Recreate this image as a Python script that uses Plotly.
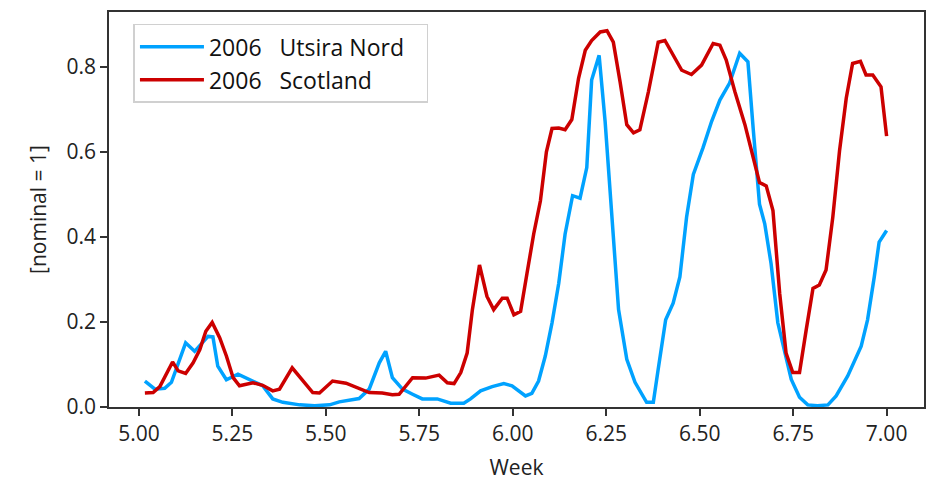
import plotly.graph_objects as go

# Utsira Nord (blue)
utsira_x = [5.016, 5.043, 5.069, 5.087, 5.125, 5.149, 5.185, 5.198, 5.211, 5.234, 5.265, 5.296,
            5.331, 5.358, 5.385, 5.43, 5.47, 5.51, 5.536, 5.589, 5.616, 5.643, 5.66, 5.678, 5.705,
            5.732, 5.758, 5.798, 5.834, 5.869, 5.887, 5.914, 5.945, 5.976, 5.998, 6.034, 6.051,
            6.069, 6.087, 6.105, 6.123, 6.14, 6.16, 6.18, 6.198, 6.211, 6.231, 6.247, 6.265,
            6.283, 6.305, 6.327, 6.358, 6.376, 6.389, 6.409, 6.429, 6.447, 6.465, 6.483, 6.509,
            6.532, 6.554, 6.58, 6.607, 6.629, 6.643, 6.66, 6.674, 6.691, 6.709, 6.727, 6.745,
            6.767, 6.789, 6.815, 6.843, 6.865, 6.896, 6.932, 6.949, 6.967, 6.98, 7.0]
utsira_y = [0.061, 0.042, 0.044, 0.058, 0.151, 0.131, 0.166, 0.165, 0.096, 0.064, 0.077, 0.065,
            0.05, 0.019, 0.011, 0.005, 0.003, 0.005, 0.012, 0.02, 0.042, 0.104, 0.131, 0.069, 0.042,
            0.03, 0.019, 0.019, 0.009, 0.009, 0.019, 0.038, 0.048, 0.055, 0.05, 0.026, 0.032,
            0.061, 0.12, 0.198, 0.291, 0.407, 0.497, 0.491, 0.563, 0.769, 0.827, 0.672, 0.462,
            0.229, 0.112, 0.058, 0.011, 0.011, 0.089, 0.205, 0.244, 0.306, 0.447, 0.547, 0.61,
            0.672, 0.722, 0.762, 0.832, 0.812, 0.656, 0.477, 0.431, 0.337, 0.198, 0.127, 0.065,
            0.023, 0.005, 0.003, 0.005, 0.026, 0.073, 0.143, 0.205, 0.306, 0.388, 0.415]

# Scotland (red)
scotland_x = [5.016, 5.038, 5.056, 5.074, 5.09, 5.105, 5.125, 5.145, 5.163, 5.179, 5.196, 5.216,
              5.234, 5.252, 5.269, 5.305, 5.331, 5.358, 5.376, 5.41, 5.438, 5.465, 5.483, 5.518,
              5.554, 5.589, 5.616, 5.651, 5.678, 5.696, 5.732, 5.767, 5.803, 5.825, 5.843, 5.861,
              5.878, 5.892, 5.911, 5.931, 5.949, 5.972, 5.985, 6.003, 6.021, 6.038, 6.056, 6.074,
              6.09, 6.105, 6.123, 6.14, 6.158, 6.176, 6.194, 6.211, 6.234, 6.252, 6.269, 6.287,
              6.305, 6.323, 6.34, 6.363, 6.389, 6.407, 6.429, 6.452, 6.478, 6.505, 6.536, 6.554,
              6.571, 6.594, 6.621, 6.66, 6.678, 6.696, 6.714, 6.731, 6.749, 6.767, 6.785, 6.803,
              6.82, 6.838, 6.856, 6.874, 6.892, 6.909, 6.93, 6.945, 6.963, 6.985, 7.0]
scotland_y = [0.033, 0.034, 0.048, 0.081, 0.106, 0.085, 0.079, 0.104, 0.135, 0.178, 0.199, 0.163,
              0.12, 0.069, 0.05, 0.057, 0.051, 0.038, 0.042, 0.092, 0.061, 0.034, 0.033, 0.061,
              0.056, 0.044, 0.034, 0.033, 0.029, 0.03, 0.069, 0.068, 0.075, 0.057, 0.055, 0.081,
              0.127, 0.229, 0.334, 0.26, 0.229, 0.256, 0.256, 0.217, 0.225, 0.314, 0.407, 0.485,
              0.6, 0.655, 0.656, 0.652, 0.676, 0.773, 0.839, 0.862, 0.882, 0.885, 0.858, 0.765,
              0.664, 0.645, 0.652, 0.742, 0.858, 0.862, 0.827, 0.792, 0.782, 0.804, 0.855, 0.851,
              0.816, 0.742, 0.664, 0.528, 0.52, 0.462, 0.267, 0.127, 0.081, 0.081, 0.182, 0.279,
              0.287, 0.322, 0.446, 0.602, 0.726, 0.808, 0.813, 0.781, 0.781, 0.753, 0.637]

x_ticks = [5.00, 5.25, 5.50, 5.75, 6.00, 6.25, 6.50, 6.75, 7.00]
y_ticks = [0.0, 0.2, 0.4, 0.6, 0.8]

NB = "\u00a0"
fig = go.Figure()
fig.add_trace(go.Scatter(x=utsira_x, y=utsira_y, mode="lines",
                         name="2006" + NB * 3 + "Utsira Nord" + NB * 3, legendgroup="a",
                         line=dict(color="#00a2ff", width=3.5)))
fig.add_trace(go.Scatter(x=scotland_x, y=scotland_y, mode="lines",
                         name="2006" + NB * 3 + "Scotland", legendgroup="b",
                         line=dict(color="#cc0000", width=3.5)))

font_family = "Open Sans, Noto Sans, DejaVu Sans, sans-serif"
fig.update_layout(
    width=936, height=486,
    margin=dict(l=109, r=11, t=10, b=78),
    paper_bgcolor="white", plot_bgcolor="white",
    font=dict(family=font_family, size=21, color="#222222"),
    showlegend=True,
    legend=dict(x=0.03, y=0.97, xanchor="left", yanchor="top",
                bordercolor="#d0d0d0", borderwidth=1.5, bgcolor="rgba(255,255,255,0.8)",
                tracegroupgap=0, itemwidth=64,
                font=dict(size=23, color="#111111")),
    xaxis=dict(range=[4.92, 7.10], tickvals=x_ticks,
               ticktext=[f"{v:.2f}" for v in x_ticks],
               showgrid=False, zeroline=False, showline=True, linecolor="#333333",
               linewidth=1.5, mirror=True, ticks="outside", ticklen=7, tickwidth=1.5,
               tickcolor="#333333",
               title=dict(text="Week", font=dict(size=21), standoff=14)),
    yaxis=dict(range=[0, 0.929], tickvals=y_ticks,
               ticktext=[f"{v:.1f}" for v in y_ticks],
               showgrid=False, zeroline=False, showline=True, linecolor="#333333",
               linewidth=1.5, mirror=True, ticks="outside", ticklen=7, tickwidth=1.5,
               tickcolor="#333333",
               title=dict(text="[nominal = 1]", font=dict(size=21), standoff=14)),
)

fig.write_html("out.html")
